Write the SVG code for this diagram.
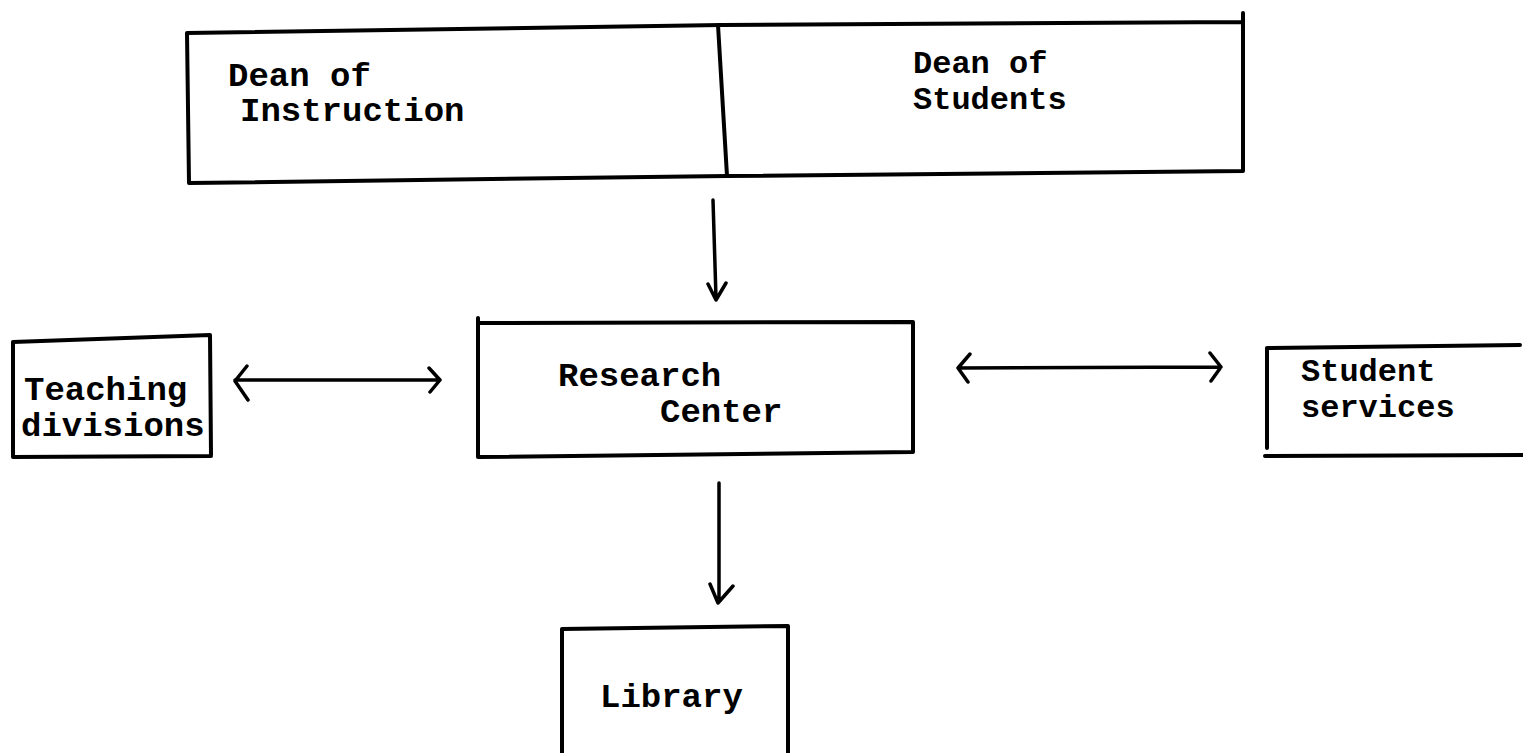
<svg xmlns="http://www.w3.org/2000/svg" width="1523" height="753" viewBox="0 0 1523 753">
<style>
.box{fill:none;stroke:#000;stroke-width:4;stroke-linejoin:round;stroke-linecap:round}
.ln{fill:none;stroke:#000;stroke-width:3.5;stroke-linecap:round;stroke-linejoin:round}
.t{font-family:"Liberation Mono","DejaVu Sans Mono",monospace;font-weight:bold;fill:#000;font-size:34px}
.s{font-size:32px}
</style>
<rect width="1523" height="753" fill="#fff"/>
<g id="dean-instruction">
<path class="box" d="M187,33 L722,25 M187,33 L189,183 L727,176"/>
<text class="t" x="228" y="86">Dean of</text>
<text class="t" x="240" y="121">Instruction</text>
</g>
<g id="dean-students">
<path class="box" d="M718,25 L727,176 M722,25 L1243,22 M1243,13 L1243,171 L727,176"/>
<text class="t s" x="913" y="73">Dean of</text>
<text class="t s" x="913" y="109">Students</text>
</g>
<g id="teaching-divisions">
<path class="box" d="M13,342 L210,335 L211,455 M13,342 L13,457 L211,456"/>
<text class="t" x="24" y="400" font-size="33">Teaching</text>
<text class="t" x="21" y="436" font-size="33">divisions</text>
</g>
<g id="research-center">
<path class="box" d="M478,318 L478,457 L913,452 L913,322 L478,323"/>
<text class="t" x="558" y="386">Research</text>
<text class="t" x="660" y="422">Center</text>
</g>
<g id="student-services">
<path class="box" d="M1267,348 L1267,448 M1265,456 L1523,455 M1267,348 L1520,345"/>
<text class="t s" x="1301" y="381">Student</text>
<text class="t s" x="1301" y="417">services</text>
</g>
<g id="library">
<path class="box" d="M562,753 L562,629 L788,626 L788,753"/>
<text class="t" x="600" y="707">Library</text>
</g>
<g id="connectors">
<path class="ln" d="M713,200 L716,298 M708,284 L716,300 L726,283"/>
<path class="ln" d="M235,380 L440,380 M247,366 L235,381 L248,400 M429,368 L440,380 L430,392"/>
<path class="ln" d="M958,368 L1221,367 M970,354 L958,368 L968,382 M1210,353 L1221,367 L1211,381"/>
<path class="ln" d="M719,483 L719,602 M710,584 L718,603 L733,586"/>
</g>
</svg>
